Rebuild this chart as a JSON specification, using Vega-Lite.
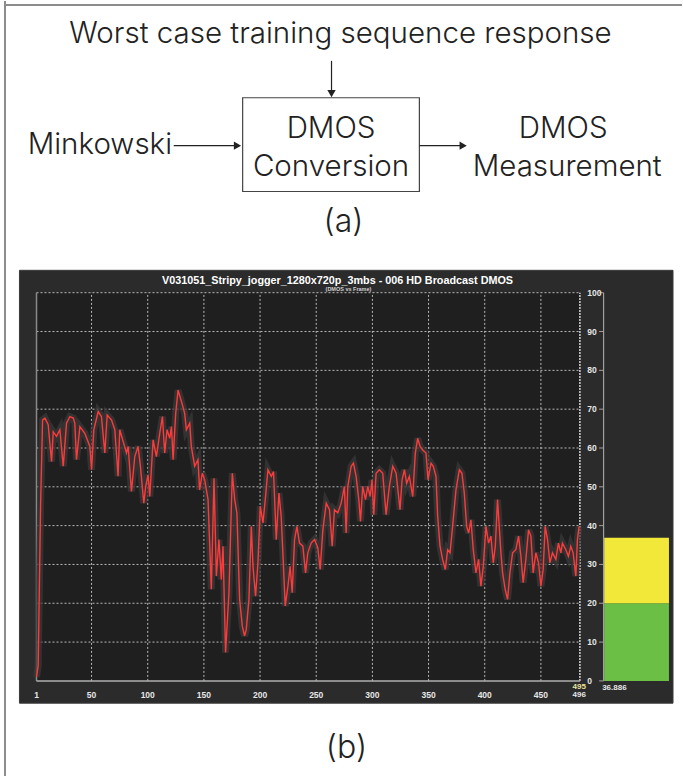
{
"$schema":"https://vega.github.io/schema/vega-lite/v6.json",
"width":683,"height":777,
"autosize":{"type":"fit","contains":"padding"},
"padding":0,
"background":"white",
"config":{"view":{"stroke":null}},
"datasets":{
"line":[{"frame":1,"dmos":1},{"frame":2.5,"dmos":4},{"frame":4.6,"dmos":45},{"frame":6.4,"dmos":67.2},{"frame":8.5,"dmos":67.7},{"frame":11.4,"dmos":66.0},{"frame":14.4,"dmos":56.5},{"frame":15.9,"dmos":64.2},{"frame":18.8,"dmos":63.0},{"frame":21.8,"dmos":64.7},{"frame":24.8,"dmos":55.3},{"frame":27.7,"dmos":66.4},{"frame":30.7,"dmos":68.1},{"frame":33.7,"dmos":67.7},{"frame":35.1,"dmos":66.4},{"frame":36.6,"dmos":57.0},{"frame":39.6,"dmos":65.5},{"frame":44.0,"dmos":63.8},{"frame":48.5,"dmos":60.4},{"frame":50.0,"dmos":54.4},{"frame":52.0,"dmos":64.7},{"frame":55.9,"dmos":69.4},{"frame":58.8,"dmos":68.1},{"frame":61.8,"dmos":58.7},{"frame":63.9,"dmos":68.5},{"frame":67.8,"dmos":67.2},{"frame":70.7,"dmos":64.7},{"frame":73.6,"dmos":52.7},{"frame":75.1,"dmos":64.7},{"frame":78.1,"dmos":61.7},{"frame":81.1,"dmos":58.7},{"frame":82.6,"dmos":60.4},{"frame":85.5,"dmos":48.8},{"frame":88.5,"dmos":57.8},{"frame":91.4,"dmos":60.4},{"frame":93.5,"dmos":55.3},{"frame":96.5,"dmos":45.8},{"frame":98.2,"dmos":50.1},{"frame":100.3,"dmos":53.1},{"frame":101.8,"dmos":47.5},{"frame":104.8,"dmos":62.1},{"frame":107.7,"dmos":57.8},{"frame":110.7,"dmos":63.8},{"frame":113.1,"dmos":68.1},{"frame":115.1,"dmos":58.7},{"frame":117.2,"dmos":64.7},{"frame":119.6,"dmos":62.5},{"frame":121.1,"dmos":65.5},{"frame":122.6,"dmos":57.0},{"frame":124.9,"dmos":68.9},{"frame":127.0,"dmos":74.9},{"frame":130.0,"dmos":72.0},{"frame":132.9,"dmos":68.9},{"frame":134.4,"dmos":64.7},{"frame":137.4,"dmos":66.4},{"frame":138.8,"dmos":60.4},{"frame":141.8,"dmos":55.3},{"frame":144.7,"dmos":57.0},{"frame":146.2,"dmos":49.2},{"frame":148.6,"dmos":53.5},{"frame":150.7,"dmos":51.8},{"frame":153.7,"dmos":46.7},{"frame":156.6,"dmos":23.6},{"frame":159.0,"dmos":52.2},{"frame":161.1,"dmos":27.0},{"frame":163.4,"dmos":36.4},{"frame":165.5,"dmos":26.1},{"frame":167.0,"dmos":34.7},{"frame":169.3,"dmos":7.3},{"frame":172.3,"dmos":22.7},{"frame":175.3,"dmos":53.5},{"frame":177.4,"dmos":46.7},{"frame":179.4,"dmos":43.2},{"frame":181.8,"dmos":21.0},{"frame":184.2,"dmos":14.1},{"frame":186.2,"dmos":11.6},{"frame":187.7,"dmos":13.2},{"frame":190.1,"dmos":21.0},{"frame":192.2,"dmos":39.8},{"frame":193.7,"dmos":29.5},{"frame":196.0,"dmos":21.8},{"frame":198.1,"dmos":30.4},{"frame":200.2,"dmos":45.0},{"frame":202.6,"dmos":40.7},{"frame":204.9,"dmos":47.5},{"frame":207.0,"dmos":54.4},{"frame":210.0,"dmos":52.7},{"frame":212.0,"dmos":53.9},{"frame":214.4,"dmos":36.4},{"frame":216.8,"dmos":48.4},{"frame":218.8,"dmos":42.4},{"frame":220.3,"dmos":33.0},{"frame":222.4,"dmos":19.3},{"frame":224.8,"dmos":24.4},{"frame":226.8,"dmos":29.5},{"frame":228.6,"dmos":22.7},{"frame":230.7,"dmos":36.4},{"frame":232.8,"dmos":39.8},{"frame":235.1,"dmos":35.5},{"frame":238.1,"dmos":34.7},{"frame":240.5,"dmos":27.8},{"frame":242.5,"dmos":33.0},{"frame":245.5,"dmos":35.5},{"frame":248.5,"dmos":36.4},{"frame":251.4,"dmos":34.3},{"frame":253.5,"dmos":28.7},{"frame":255.9,"dmos":38.9},{"frame":258.9,"dmos":45.8},{"frame":261.8,"dmos":44.1},{"frame":264.2,"dmos":34.7},{"frame":266.2,"dmos":44.1},{"frame":269.2,"dmos":43.3},{"frame":272.2,"dmos":45.8},{"frame":275.1,"dmos":50.1},{"frame":276.6,"dmos":38.1},{"frame":278.1,"dmos":50.1},{"frame":281.1,"dmos":55.3},{"frame":283.1,"dmos":56.1},{"frame":285.5,"dmos":52.7},{"frame":287.9,"dmos":46.7},{"frame":289.4,"dmos":41.1},{"frame":291.4,"dmos":50.1},{"frame":293.8,"dmos":46.7},{"frame":295.9,"dmos":50.1},{"frame":298.0,"dmos":47.5},{"frame":299.7,"dmos":51.8},{"frame":301.2,"dmos":42.8},{"frame":303.3,"dmos":53.5},{"frame":306.2,"dmos":54.4},{"frame":309.2,"dmos":53.5},{"frame":312.2,"dmos":42.8},{"frame":315.1,"dmos":50.1},{"frame":318.1,"dmos":55.3},{"frame":321.1,"dmos":53.5},{"frame":324.6,"dmos":44.1},{"frame":326.4,"dmos":51.8},{"frame":328.5,"dmos":54.4},{"frame":330.5,"dmos":50.9},{"frame":332.9,"dmos":52.7},{"frame":335.9,"dmos":47.5},{"frame":338.2,"dmos":58.7},{"frame":340.3,"dmos":62.5},{"frame":342.4,"dmos":60.4},{"frame":344.8,"dmos":59.5},{"frame":347.7,"dmos":58.7},{"frame":349.5,"dmos":51.8},{"frame":352.2,"dmos":56.1},{"frame":354.2,"dmos":55.3},{"frame":356.6,"dmos":52.7},{"frame":358.1,"dmos":42.4},{"frame":360.2,"dmos":34.7},{"frame":362.5,"dmos":31.3},{"frame":364.9,"dmos":28.7},{"frame":367.0,"dmos":33.8},{"frame":369.1,"dmos":33.0},{"frame":371.4,"dmos":39.8},{"frame":374.4,"dmos":49.2},{"frame":377.4,"dmos":54.4},{"frame":379.7,"dmos":53.5},{"frame":381.8,"dmos":48.4},{"frame":383.9,"dmos":39.8},{"frame":385.7,"dmos":38.1},{"frame":387.7,"dmos":41.5},{"frame":389.8,"dmos":33.8},{"frame":392.2,"dmos":27.8},{"frame":394.5,"dmos":31.3},{"frame":396.6,"dmos":24.4},{"frame":398.7,"dmos":29.5},{"frame":401.1,"dmos":39.8},{"frame":403.4,"dmos":35.5},{"frame":405.5,"dmos":37.3},{"frame":407.6,"dmos":30.4},{"frame":409.4,"dmos":34.7},{"frame":411.4,"dmos":46.7},{"frame":412.9,"dmos":39.8},{"frame":414.4,"dmos":33.0},{"frame":415.9,"dmos":27.8},{"frame":418.2,"dmos":23.6},{"frame":420.3,"dmos":21.0},{"frame":422.4,"dmos":27.8},{"frame":424.8,"dmos":33.0},{"frame":427.7,"dmos":33.8},{"frame":430.1,"dmos":37.3},{"frame":432.2,"dmos":32.1},{"frame":434.2,"dmos":25.3},{"frame":436.6,"dmos":31.3},{"frame":439.0,"dmos":38.9},{"frame":441.1,"dmos":37.3},{"frame":443.1,"dmos":27.8},{"frame":445.5,"dmos":33.0},{"frame":447.9,"dmos":30.4},{"frame":450.0,"dmos":24.4},{"frame":452.0,"dmos":28.7},{"frame":453.8,"dmos":39.8},{"frame":455.9,"dmos":36.4},{"frame":458.0,"dmos":30.4},{"frame":460.3,"dmos":33.0},{"frame":463.3,"dmos":31.3},{"frame":465.6,"dmos":35.5},{"frame":467.7,"dmos":33.0},{"frame":469.2,"dmos":35.5},{"frame":472.2,"dmos":33.8},{"frame":474.5,"dmos":32.1},{"frame":476.6,"dmos":34.7},{"frame":478.7,"dmos":33.0},{"frame":481.1,"dmos":27.0},{"frame":482.5,"dmos":36.4},{"frame":484.0,"dmos":39.8}],
"gridX":[{"frame":50},{"frame":100},{"frame":150},{"frame":200},{"frame":250},{"frame":300},{"frame":350},{"frame":400},{"frame":450}],
"gridY":[{"dmos":10},{"dmos":20},{"dmos":30},{"dmos":40},{"dmos":50},{"dmos":60},{"dmos":70},{"dmos":80},{"dmos":90},{"dmos":100}],
"xlab":[{"frame":1,"label":"1"},{"frame":50,"label":"50"},{"frame":100,"label":"100"},{"frame":150,"label":"150"},{"frame":200,"label":"200"},{"frame":250,"label":"250"},{"frame":300,"label":"300"},{"frame":350,"label":"350"},{"frame":400,"label":"400"},{"frame":450,"label":"450"}],
"ylab":[{"dmos":0,"label":"0"},{"dmos":10,"label":"10"},{"dmos":20,"label":"20"},{"dmos":30,"label":"30"},{"dmos":40,"label":"40"},{"dmos":50,"label":"50"},{"dmos":60,"label":"60"},{"dmos":70,"label":"70"},{"dmos":80,"label":"80"},{"dmos":90,"label":"90"},{"dmos":100,"label":"100"}],
"bars":[{"level":"good","lo":0,"hi":20},{"level":"fair","lo":20,"hi":36.886}],
"border":[{"x":-27.06,"x2":-27.06,"y":175.15,"y2":-24.5},{"x":-27.06,"x2":575.6,"y":174.12,"y2":174.12}],
"dtext":[{"label":"Worst case training sequence response","x":271.6,"y":164.36},{"label":"DMOS","x":263.2,"y":139.95},{"label":"Conversion","x":263.2,"y":130.18},{"label":"Minkowski","x":57.4,"y":135.84},{"label":"DMOS","x":469.8,"y":139.95},{"label":"Measurement","x":473.4,"y":130.18}],
"captions":[{"label":"(a)","x":274.3,"y":115.54},{"label":"(b)","x":276.9,"y":-19.88}],
"shafts":[{"x":263.61,"x2":263.61,"y":159.73,"y2":151.5},{"x":123.16,"x2":178.27,"y":137.89,"y2":137.89},{"x":341.83,"x2":379.16,"y":137.89,"y2":137.89}],
"heads":[{"dir":"down","x":263.61,"y":151.3},{"dir":"right","x":179.9,"y":137.89},{"dir":"right","x":380.8,"y":137.89}]
},
"layer":[
{"data":{"name":"border"},"mark":{"type":"rule","color":"#8c8c8c","strokeWidth":2},
 "encoding":{"x":{"field":"x","type":"quantitative","scale":{"domain":[-31.5,575.6],"nice":false,"zero":false},"axis":null},"x2":{"field":"x2"},
 "y":{"field":"y","type":"quantitative","scale":{"domain":[-24.5,175.15],"nice":false,"zero":false},"axis":null},"y2":{"field":"y2"}}},
{"data":{"values":[{}]},"mark":{"type":"rect","color":"#2b2b2b","stroke":"#3a3a3a","strokeWidth":1},
 "encoding":{"x":{"datum":-14.17,"type":"quantitative","scale":{"domain":[-31.5,575.6],"nice":false,"zero":false},"axis":null},"x2":{"datum":567.6},
 "y":{"datum":105.77,"type":"quantitative","scale":{"domain":[-24.5,175.15],"nice":false,"zero":false},"axis":null},"y2":{"datum":-5.74}}},
{"data":{"values":[{}]},"mark":{"type":"rect","color":"#1f1f1f"},
 "encoding":{"x":{"datum":1,"type":"quantitative","scale":{"domain":[-31.5,575.6],"nice":false,"zero":false},"axis":null},"x2":{"datum":484.7},
 "y":{"datum":0,"type":"quantitative","scale":{"domain":[-24.5,175.15],"nice":false,"zero":false},"axis":null},"y2":{"datum":100}}},
{"data":{"name":"gridX"},"mark":{"type":"rule","color":"#b8b8b8","strokeWidth":1,"strokeDash":[2,2]},
 "encoding":{"x":{"field":"frame","type":"quantitative","scale":{"domain":[-31.5,575.6],"nice":false,"zero":false},"axis":null},
 "y":{"datum":0,"type":"quantitative","scale":{"domain":[-24.5,175.15],"nice":false,"zero":false},"axis":null},"y2":{"datum":100}}},
{"data":{"name":"gridY"},"mark":{"type":"rule","color":"#b8b8b8","strokeWidth":1,"strokeDash":[2,2]},
 "encoding":{"x":{"datum":1,"type":"quantitative","scale":{"domain":[-31.5,575.6],"nice":false,"zero":false},"axis":null},"x2":{"datum":484.7},
 "y":{"field":"dmos","type":"quantitative","scale":{"domain":[-24.5,175.15],"nice":false,"zero":false},"axis":null}}},
{"data":{"values":[{}]},"mark":{"type":"rule","color":"#c8c8c8","strokeWidth":1.6,"strokeDash":[2,1]},
 "encoding":{"x":{"datum":484.7,"type":"quantitative","scale":{"domain":[-31.5,575.6],"nice":false,"zero":false},"axis":null},
 "y":{"datum":0,"type":"quantitative","scale":{"domain":[-24.5,175.15],"nice":false,"zero":false},"axis":null},"y2":{"datum":100}}},
{"data":{"values":[{}]},"mark":{"type":"rule","color":"#8a8a8a","strokeWidth":1.5},
 "encoding":{"x":{"datum":1,"type":"quantitative","scale":{"domain":[-31.5,575.6],"nice":false,"zero":false},"axis":null},
 "y":{"datum":0,"type":"quantitative","scale":{"domain":[-24.5,175.15],"nice":false,"zero":false},"axis":null},"y2":{"datum":100}}},
{"data":{"values":[{}]},"mark":{"type":"rule","color":"#b0b0b0","strokeWidth":1.5},
 "encoding":{"x":{"datum":1,"type":"quantitative","scale":{"domain":[-31.5,575.6],"nice":false,"zero":false},"axis":null},"x2":{"datum":484.7},
 "y":{"datum":0,"type":"quantitative","scale":{"domain":[-24.5,175.15],"nice":false,"zero":false},"axis":null}}},
{"data":{"name":"line"},"mark":{"type":"line","color":"#3a3a3a","strokeWidth":7,"opacity":0.75,"strokeJoin":"miter"},
 "encoding":{"x":{"field":"frame","type":"quantitative","scale":{"domain":[-31.5,575.6],"nice":false,"zero":false},"axis":null},
 "y":{"field":"dmos","type":"quantitative","scale":{"domain":[-24.5,175.15],"nice":false,"zero":false},"axis":null}}},
{"data":{"name":"line"},"mark":{"type":"line","color":"#ff3a3a","strokeWidth":1.4},
 "encoding":{"x":{"field":"frame","type":"quantitative","scale":{"domain":[-31.5,575.6],"nice":false,"zero":false},"axis":null},
 "y":{"field":"dmos","type":"quantitative","scale":{"domain":[-24.5,175.15],"nice":false,"zero":false},"axis":null}}},
{"data":{"name":"bars"},"mark":{"type":"rect"},
 "encoding":{"x":{"datum":506.3,"type":"quantitative","scale":{"domain":[-31.5,575.6],"nice":false,"zero":false},"axis":null},"x2":{"datum":564.0},
 "y":{"field":"lo","type":"quantitative","scale":{"domain":[-24.5,175.15],"nice":false,"zero":false},"axis":null},"y2":{"field":"hi"},
 "color":{"field":"level","type":"nominal","scale":{"domain":["good","fair"],"range":["#6cbf45","#f1e83a"]},"legend":null}}},
{"data":{"values":[{}]},"mark":{"type":"rule","color":"#a0a0a0","strokeWidth":1.2},
 "encoding":{"x":{"datum":505.8,"type":"quantitative","scale":{"domain":[-31.5,575.6],"nice":false,"zero":false},"axis":null},
 "y":{"datum":0,"type":"quantitative","scale":{"domain":[-24.5,175.15],"nice":false,"zero":false},"axis":null},"y2":{"datum":100}}},
{"data":{"name":"ylab"},"mark":{"type":"rule","color":"#a0a0a0","strokeWidth":1},
 "encoding":{"x":{"datum":501.8,"type":"quantitative","scale":{"domain":[-31.5,575.6],"nice":false,"zero":false},"axis":null},"x2":{"datum":505.8},
 "y":{"field":"dmos","type":"quantitative","scale":{"domain":[-24.5,175.15],"nice":false,"zero":false},"axis":null}}},
{"data":{"name":"ylab"},"mark":{"type":"text","align":"left","baseline":"middle","fontSize":8.5,"fontWeight":"bold","font":"Liberation Sans Narrow, Liberation Sans","color":"#e6e6e6"},
 "encoding":{"x":{"datum":491.2,"type":"quantitative","scale":{"domain":[-31.5,575.6],"nice":false,"zero":false},"axis":null},
 "y":{"field":"dmos","type":"quantitative","scale":{"domain":[-24.5,175.15],"nice":false,"zero":false},"axis":null},"text":{"field":"label"}}},
{"data":{"name":"xlab"},"mark":{"type":"text","align":"center","baseline":"middle","fontSize":8.5,"fontWeight":"bold","font":"Liberation Sans Narrow, Liberation Sans","color":"#e6e6e6"},
 "encoding":{"x":{"field":"frame","type":"quantitative","scale":{"domain":[-31.5,575.6],"nice":false,"zero":false},"axis":null},
 "y":{"datum":-3.69,"type":"quantitative","scale":{"domain":[-24.5,175.15],"nice":false,"zero":false},"axis":null},"text":{"field":"label"}}},
{"data":{"values":[{}]},"mark":{"type":"text","text":"495","align":"center","baseline":"middle","fontSize":8,"fontWeight":"bold","font":"Liberation Sans Narrow, Liberation Sans","color":"#e8e2a0"},
 "encoding":{"x":{"datum":484.05,"type":"quantitative","scale":{"domain":[-31.5,575.6],"nice":false,"zero":false},"axis":null},
 "y":{"datum":-1.63,"type":"quantitative","scale":{"domain":[-24.5,175.15],"nice":false,"zero":false},"axis":null}}},
{"data":{"values":[{}]},"mark":{"type":"text","text":"496","align":"center","baseline":"middle","fontSize":8,"fontWeight":"bold","font":"Liberation Sans Narrow, Liberation Sans","color":"#e6e6e6"},
 "encoding":{"x":{"datum":484.05,"type":"quantitative","scale":{"domain":[-31.5,575.6],"nice":false,"zero":false},"axis":null},
 "y":{"datum":-3.56,"type":"quantitative","scale":{"domain":[-24.5,175.15],"nice":false,"zero":false},"axis":null}}},
{"data":{"values":[{}]},"mark":{"type":"text","text":"36.886","align":"left","baseline":"middle","fontSize":8,"fontWeight":"bold","font":"Liberation Sans Narrow, Liberation Sans","color":"#e6e6e6"},
 "encoding":{"x":{"datum":504.5,"type":"quantitative","scale":{"domain":[-31.5,575.6],"nice":false,"zero":false},"axis":null},
 "y":{"datum":-1.89,"type":"quantitative","scale":{"domain":[-24.5,175.15],"nice":false,"zero":false},"axis":null}}},
{"data":{"values":[{}]},"mark":{"type":"text","text":"V031051_Stripy_jogger_1280x720p_3mbs - 006 HD Broadcast DMOS","align":"center","baseline":"middle","fontSize":10.8,"fontWeight":"bold","font":"Liberation Sans","color":"#ffffff"},
 "encoding":{"x":{"datum":268.94,"type":"quantitative","scale":{"domain":[-31.5,575.6],"nice":false,"zero":false},"axis":null},
 "y":{"datum":103.02,"type":"quantitative","scale":{"domain":[-24.5,175.15],"nice":false,"zero":false},"axis":null}}},
{"data":{"values":[{}]},"mark":{"type":"text","text":"(DMOS vs Frame)","align":"center","baseline":"middle","fontSize":5.5,"fontWeight":"bold","font":"Liberation Sans","color":"#d0d0d0"},
 "encoding":{"x":{"datum":278.7,"type":"quantitative","scale":{"domain":[-31.5,575.6],"nice":false,"zero":false},"axis":null},
 "y":{"datum":100.97,"type":"quantitative","scale":{"domain":[-24.5,175.15],"nice":false,"zero":false},"axis":null}}},
{"data":{"values":[{}]},"mark":{"type":"rect","fill":"#ffffff","stroke":"#444444","strokeWidth":1.2},
 "encoding":{"x":{"datum":184.5,"type":"quantitative","scale":{"domain":[-31.5,575.6],"nice":false,"zero":false},"axis":null},"x2":{"datum":341.83},
 "y":{"datum":150.23,"type":"quantitative","scale":{"domain":[-24.5,175.15],"nice":false,"zero":false},"axis":null},"y2":{"datum":126.07}}},
{"data":{"name":"shafts"},"mark":{"type":"rule","color":"#222222","strokeWidth":1.2},
 "encoding":{"x":{"field":"x","type":"quantitative","scale":{"domain":[-31.5,575.6],"nice":false,"zero":false},"axis":null},"x2":{"field":"x2"},
 "y":{"field":"y","type":"quantitative","scale":{"domain":[-24.5,175.15],"nice":false,"zero":false},"axis":null},"y2":{"field":"y2"}}},
{"data":{"name":"heads"},"mark":{"type":"point","filled":true,"color":"#222222","size":70,"opacity":1,"strokeWidth":0},
 "encoding":{"x":{"field":"x","type":"quantitative","scale":{"domain":[-31.5,575.6],"nice":false,"zero":false},"axis":null},
 "y":{"field":"y","type":"quantitative","scale":{"domain":[-24.5,175.15],"nice":false,"zero":false},"axis":null},
 "shape":{"field":"dir","type":"nominal","scale":{"domain":["down","right"],"range":["triangle-down","triangle-right"]},"legend":null}}},
{"data":{"name":"dtext"},"mark":{"type":"text","align":"center","baseline":"alphabetic","fontSize":29.5,"fontWeight":300,"font":"Inter","color":"#222222"},
 "encoding":{"x":{"field":"x","type":"quantitative","scale":{"domain":[-31.5,575.6],"nice":false,"zero":false},"axis":null},
 "y":{"field":"y","type":"quantitative","scale":{"domain":[-24.5,175.15],"nice":false,"zero":false},"axis":null},"text":{"field":"label"}}},
{"data":{"name":"captions"},"mark":{"type":"text","align":"center","baseline":"alphabetic","fontSize":32,"fontWeight":300,"font":"Inter","color":"#222222"},
 "encoding":{"x":{"field":"x","type":"quantitative","scale":{"domain":[-31.5,575.6],"nice":false,"zero":false},"axis":null},
 "y":{"field":"y","type":"quantitative","scale":{"domain":[-24.5,175.15],"nice":false,"zero":false},"axis":null},"text":{"field":"label"}}}
]
}
